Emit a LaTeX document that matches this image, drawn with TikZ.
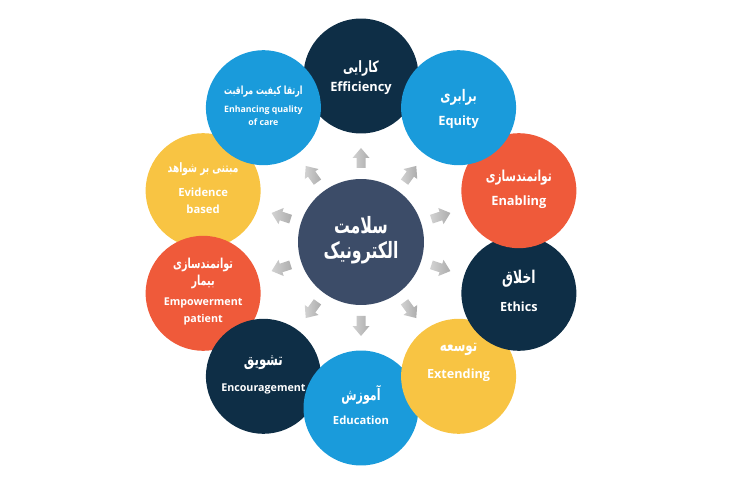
\documentclass[tikz,border=0pt]{standalone}
\usepackage{fontspec}
\setmainfont{Open Sans}
\newfontfamily\farsi[Script=Arabic, FakeStretch=0.7]{DejaVu Sans}
\TeXXeTstate=1
\usetikzlibrary{positioning,calc}
\definecolor{navy}{HTML}{0E2E46}
\definecolor{sky}{HTML}{1A9BDB}
\definecolor{flame}{HTML}{EF5A3A}
\definecolor{sun}{HTML}{F8C443}
\definecolor{hubcol}{HTML}{3C4C68}
\newcommand{\fa}[1]{{\farsi\bfseries\beginR #1\endR}}
\newcommand{\sz}[2]{\fontsize{#1}{#2}\selectfont}

\begin{document}
\begin{tikzpicture}[x=0.02cm, y=0.02cm,
  bubble/.style={circle, minimum size=2.3cm, inner sep=0pt},
  hub/.style={circle, fill=hubcol, minimum size=2.52cm, inner sep=0pt},
  word/.style={text=white, font=\bfseries, align=center, inner sep=0pt},
  pointer/.style={left color=gray!35, right color=gray!65}]
\useasboundingbox (-361,-258) rectangle (389,242);

% outer circles, in stacking order
\node[bubble, fill=navy]  (eff) at (90:166)  {};
\node[bubble, fill=sun]   (evi) at (162:166) {};
\node[bubble, fill=flame] (emp) at (198:166) {};
\node[bubble, fill=navy]  (enc) at (234:166) {};
\node[bubble, fill=sky]   (edu) at (270:166) {};
\node[bubble, fill=sun]   (ext) at (306:166) {};
\node[bubble, fill=navy]  (eth) at (342:166) {};
\node[bubble, fill=flame] (ena) at (18:166)  {};
\node[bubble, fill=sky]   (enh) at (126:166) {};
\node[bubble, fill=sky]   (equ) at (54:166)  {};
\node[hub] (hub) at (0,0) {};

% block arrows round the hub
\foreach \a in {18,54,...,342}
  \shade[pointer, shift={(\a:84)}, rotate=\a]
    (-10,-4.5) -- (0,-4.5) -- (0,-8.5) -- (10,0) -- (0,8.5) -- (0,4.5) -- (-10,4.5) -- cycle;

% texts
\node[word, font=\sz{12.8}{14}] (hubT) at ($(hub)+(0,2)$) {\fa{سلامت}\\\fa{الکترونیک}};

\node[word, font=\sz{8.9}{10}] (effFa) at ($(eff)+(0,8)$) {\fa{کارایی}};
\node[word, font=\sz{7.3}{9}\bfseries] (effEn) at ($(eff)+(0,-12)$) {Efficiency};

\node[word, font=\sz{9.1}{10}] (equFa) at ($(equ)+(0,10)$) {\fa{برابری}};
\node[word, font=\sz{7.3}{9}\bfseries] (equEn) at ($(equ)+(0,-14)$) {Equity};

\node[word, font=\sz{8.6}{10}] (enaFa) at ($(ena)+(0,13)$) {\fa{توانمندسازی}};
\node[word, font=\sz{7.3}{9}\bfseries] (enaEn) at ($(ena)+(0,-11)$) {Enabling};

\node[word, font=\sz{10}{10}] (ethFa) at ($(eth)+(0,15)$) {\fa{اخلاق}};
\node[word, font=\sz{7.2}{9}\bfseries] (ethEn) at ($(eth)+(0,-13)$) {Ethics};

\node[word, font=\sz{9.6}{10}] (extFa) at ($(ext)+(0,27)$) {\fa{توسعه}};
\node[word, font=\sz{7.2}{9}\bfseries] (extEn) at ($(ext)+(0,1)$) {Extending};

\node[word, font=\sz{9}{10}] (eduFa) at ($(edu)+(0,13)$) {\fa{آموزش}};
\node[word, font=\sz{6.4}{9}\bfseries] (eduEn) at ($(edu)+(0,-12)$) {Education};

\node[word, font=\sz{9.6}{10}] (encFa) at ($(enc)+(0,14)$) {\fa{تشویق}};
\node[word, font=\sz{6.1}{9}\bfseries] (encEn) at ($(enc)+(0,-13)$) {Encouragement};

\node[word, font=\sz{7.8}{9.6}] (empFa) at ($(emp)+(0,19.5)$) {\fa{توانمندسازی}\\\fa{بیمار}};
\node[word, font=\sz{6.1}{9.6}\bfseries] (empEn) at ($(emp)+(0,-18.5)$) {Empowerment\\patient};

\node[word, font=\sz{7.4}{9.6}] (eviFa) at ($(evi)+(0,22)$) {\fa{مبتنی بر شواهد}};
\node[word, font=\sz{6.4}{9.6}\bfseries] (eviEn) at ($(evi)+(0,-10.5)$) {Evidence\\based};

\node[word, font=\sz{6.4}{8}] (enhFa) at ($(enh)+(0,16)$) {\fa{ارتقا کیفیت مراقبت}};
\node[word, font=\sz{5}{7.4}\bfseries] (enhEn) at ($(enh)+(0,-8.5)$) {Enhancing quality\\of care};
\end{tikzpicture}
\end{document}
